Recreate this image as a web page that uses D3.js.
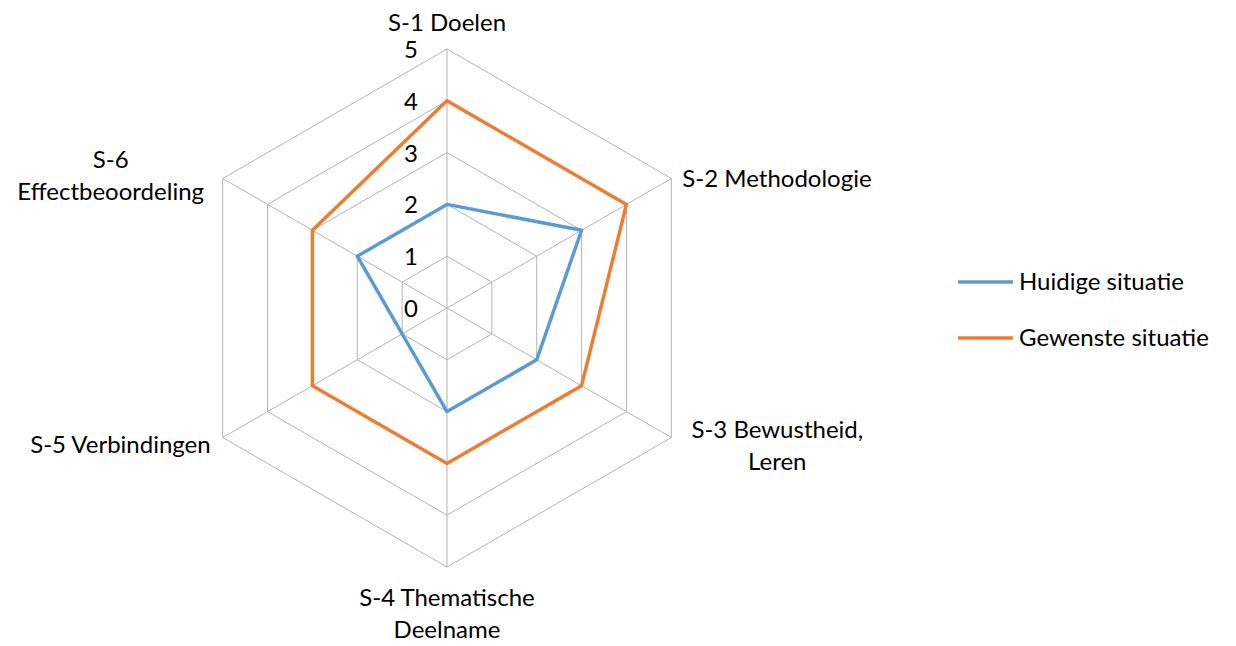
<!DOCTYPE html>
<html>
<head>
<meta charset="utf-8">
<script src="https://cdn.jsdelivr.net/npm/d3@7"></script>
<style>
  body { margin: 0; background: #fff; }
  text { font-family: Lato, "Open Sans", sans-serif; fill: #000; }
</style>
</head>
<body>
<div id="chart"></div>
<script>
// chart data
const axes = ["S-1 Doelen", "S-2 Methodologie", "S-3 Bewustheid,\nLeren", "S-4 Thematische\nDeelname", "S-5 Verbindingen", "S-6\nEffectbeoordeling"];
const huidige = [2, 3, 2, 2, 1, 2];
const gewenste = [4, 4, 3, 3, 3, 3];
const ticks = [0, 1, 2, 3, 4, 5];
const seriesNames = ["Huidige situatie", "Gewenste situatie"];
const colors = ["#5b9bd5", "#ed7d31"];

const width = 1236, height = 646;
const cx = 447, cy = 308, R = 259;
const fontSize = "24px";

let svg = d3.select("#chart").append("svg")
    .attr("width", width)
    .attr("height", height);

let r = d3.scaleLinear().domain([0, 5]).range([0, R]);
let angle = d3.scaleLinear().domain([0, axes.length]).range([0, 2 * Math.PI]);

function pt(i, v) {
    let a = angle(i);
    return [cx + r(v) * Math.sin(a), cy - r(v) * Math.cos(a)];
}

let g = svg.append("g");

// grid rings
ticks.slice(1).forEach(function (t) {
    g.append("polygon")
      .attr("points", axes.map((d, i) => pt(i, t).join(",")).join(" "))
      .attr("fill", "none")
      .attr("stroke", "#b3b3b3")
      .attr("stroke-width", 1);
});

// spokes
axes.forEach(function (d, i) {
    let p = pt(i, 5);
    g.append("line")
      .attr("x1", cx).attr("y1", cy)
      .attr("x2", p[0]).attr("y2", p[1])
      .attr("stroke", "#b3b3b3")
      .attr("stroke-width", 1);
});

// tick labels
g.selectAll(".tick")
  .data(ticks)
  .enter()
  .append("text")
    .attr("x", cx - 36)
    .attr("y", d => cy - r(d) + 9)
    .style("text-anchor", "middle")
    .style("font-size", fontSize)
    .text(d => d);

// series
let line = d3.line()
    .x(d => pt(d.i, d.v)[0])
    .y(d => pt(d.i, d.v)[1])
    .curve(d3.curveLinearClosed);

[huidige, gewenste].forEach(function (vals, s) {
    g.append("path")
      .datum(vals.map((v, i) => ({i: i, v: v})))
      .attr("fill", "none")
      .attr("stroke", colors[s])
      .attr("stroke-width", 3.5)
      .attr("stroke-linejoin", "round")
      .attr("d", line);
});

// axis labels (offsets from the outer vertex)
const labelPos = [
    {dx: 0, dy: -18, anchor: "middle"},
    {dx: 11, dy: 8, anchor: "start"},
    {dx: 106, dy: 0, anchor: "middle"},
    {dx: 0, dy: 39, anchor: "middle"},
    {dx: -12, dy: 15, anchor: "end"},
    {dx: -112, dy: -11, anchor: "middle"}
];
axes.forEach(function (d, i) {
    let p = pt(i, 5);
    let t = g.append("text")
      .attr("x", p[0] + labelPos[i].dx)
      .attr("y", p[1] + labelPos[i].dy)
      .style("text-anchor", labelPos[i].anchor)
      .style("font-size", fontSize);
    d.split("\n").forEach(function (part, k) {
        t.append("tspan")
          .attr("x", p[0] + labelPos[i].dx)
          .attr("dy", k === 0 ? 0 : 32)
          .text(part);
    });
});

// legend
let legend = svg.append("g").attr("transform", "translate(958, 282)");
seriesNames.forEach(function (name, s) {
    legend.append("line")
      .attr("x1", 0).attr("x2", 55)
      .attr("y1", s * 56).attr("y2", s * 56)
      .attr("stroke", colors[s])
      .attr("stroke-width", 3.5);
    legend.append("text")
      .attr("x", 61)
      .attr("y", s * 56 + 8)
      .style("font-size", fontSize)
      .text(name);
});
</script>
</body>
</html>
